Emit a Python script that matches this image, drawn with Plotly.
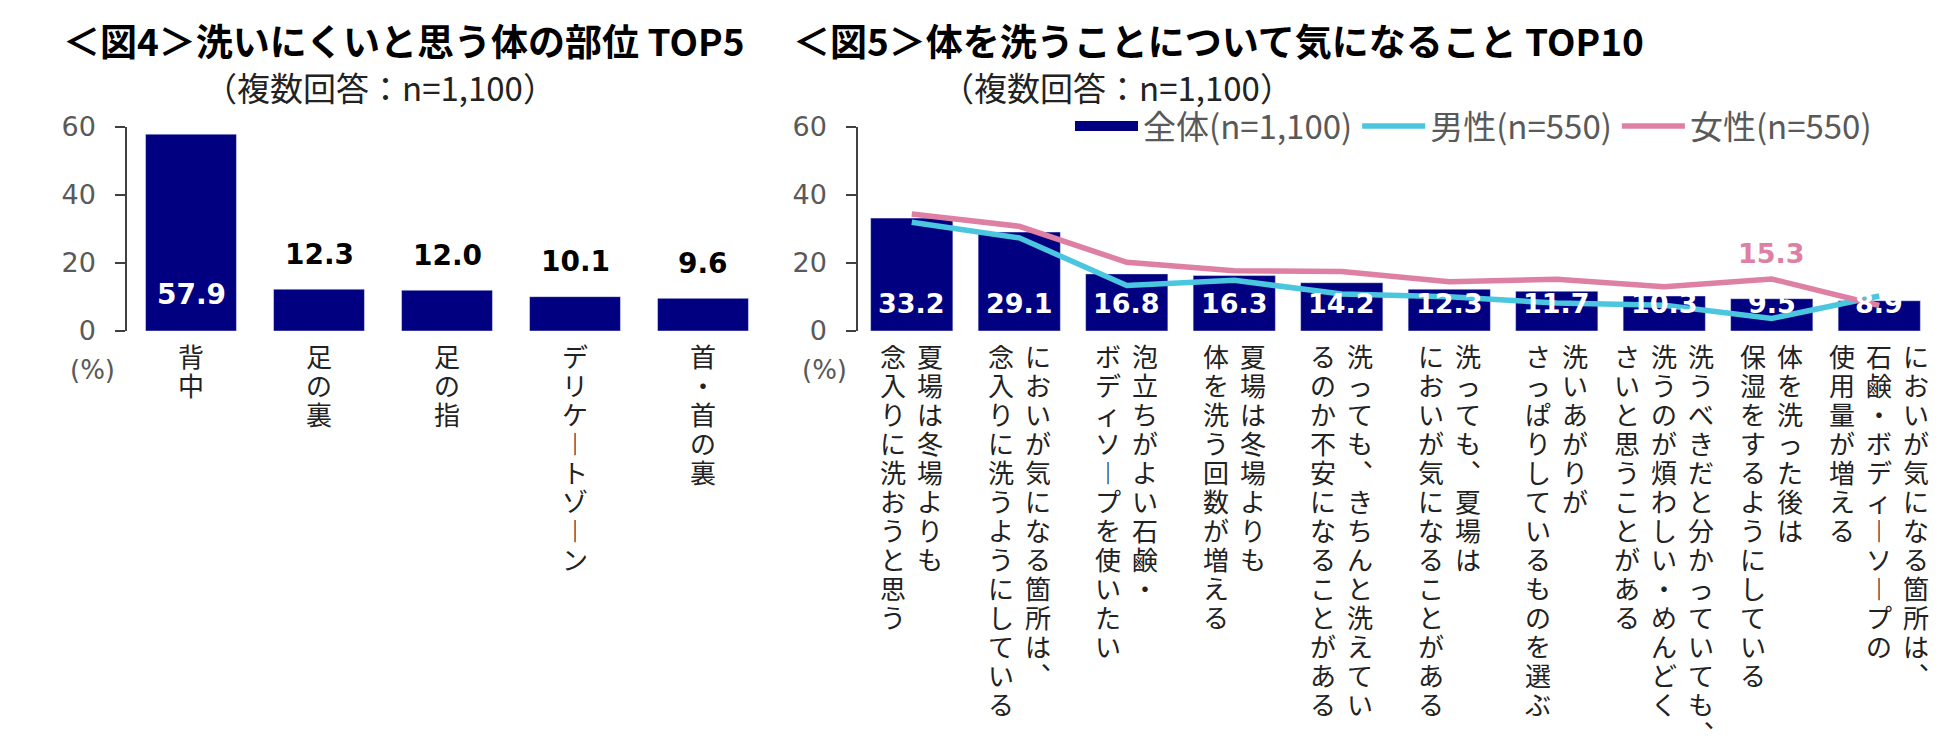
"""図4・図5 体の洗い方アンケート チャート (Plotly)."""

import plotly.graph_objects as go

# ══════════════════════════════════════
# データ
# ══════════════════════════════════════

# 図4 洗いにくいと思う体の部位
PARTS = ["背中", "足の裏", "足の指", "デリケートゾーン", "首・首の裏"]
PARTS_VALUES = [57.9, 12.3, 12.0, 10.1, 9.6]

# 図5 体を洗うことについて気になること (縦書きの列ごと)
CONCERN_LABELS = [
	["夏場は冬場よりも", "念入りに洗おうと思う"],
	["においが気になる箇所は、", "念入りに洗うようにしている"],
	["泡立ちがよい石鹸・", "ボディソープを使いたい"],
	["夏場は冬場よりも", "体を洗う回数が増える"],
	["洗っても、きちんと洗えてい", "るのか不安になることがある"],
	["洗っても、夏場は", "においが気になることがある"],
	["洗いあがりが", "さっぱりしているものを選ぶ"],
	["洗うべきだと分かっていても、", "洗うのが煩わしい・めんどく", "さいと思うことがある"],
	["体を洗った後は", "保湿をするようにしている"],
	["においが気になる箇所は、", "石鹸・ボディーソープの", "使用量が増える"],
]
CONCERNS = ["".join(cols) for cols in CONCERN_LABELS]
CONCERN_TOTAL = [33.2, 29.1, 16.8, 16.3, 14.2, 12.3, 11.7, 10.3, 9.5, 8.9]
CONCERN_MALE = [32.0, 27.4, 13.4, 14.9, 10.9, 10.1, 8.2, 7.6, 3.7, 10.3]
CONCERN_FEMALE = [34.4, 30.8, 20.2, 17.7, 17.5, 14.5, 15.2, 13.0, 15.3, 7.5]
HIGHLIGHT = 8  # 女性の値ラベルを出す項目

Y_TICKS = [0, 20, 40, 60]

# ══════════════════════════════════════
# スタイル
# ══════════════════════════════════════

NAVY = "#000080"
CYAN = "#4BC6DF"
PINK = "#DE80A3"
GRAY = "#595959"
JP_FONT = "Noto Sans CJK JP, sans-serif"
NUM_FONT = "DejaVu Sans, Verdana, sans-serif"

W, H = 1950, 753
VERTICAL = {"、": "︑", "ー": "︱"}  # 縦書き用の字形
CHAR_PITCH = 29
COL_PITCH = 37
FIRST_CHAR = 24


def _vertical_label(cat, cols, xref, yref):
	"""縦書きラベル: 1文字ずつ注釈を並べる (右の列から読む)."""
	out = []
	n = len(cols)
	for j, col in enumerate(cols):
		dx = (n - 1) / 2 * COL_PITCH - j * COL_PITCH
		for k, ch in enumerate(col):
			out.append(dict(
				x=cat, y=0, xref=xref, yref=yref,
				text=VERTICAL.get(ch, ch), showarrow=False,
				xanchor="center", yanchor="middle",
				xshift=dx, yshift=-(FIRST_CHAR + k * CHAR_PITCH),
				font=dict(family=JP_FONT, size=26, color="#222222"),
			))
	return out


def _yaxis(anchor):
	return dict(
		range=[0, 60], tickvals=Y_TICKS, domain=[1 - 331 / H, 1 - 127 / H],
		anchor=anchor, showgrid=False, zeroline=False, automargin=False,
		showline=True, linecolor="#404040", linewidth=1.5,
		ticks="outside", ticklen=10, tickcolor="#404040", tickwidth=1.5,
		ticklabelstandoff=14,
		tickfont=dict(family=NUM_FONT, size=27, color=GRAY),
	)


def _xaxis(anchor, n, x0, x1):
	return dict(
		range=[-0.5, n - 0.5], domain=[x0 / W, x1 / W], anchor=anchor,
		showticklabels=False, showgrid=False, zeroline=False, automargin=False,
		showline=False, ticks="",
	)


fig = go.Figure()

# 図4 バー
fig.add_trace(go.Bar(
	x=PARTS, y=PARTS_VALUES, marker_color=NAVY, width=0.71,
	xaxis="x", yaxis="y", showlegend=False, hoverinfo="skip",
))

# 図5 バー + 男女ライン
fig.add_trace(go.Bar(
	x=CONCERNS, y=CONCERN_TOTAL, marker_color=NAVY, width=0.765,
	xaxis="x2", yaxis="y2", showlegend=False, hoverinfo="skip",
))
fig.add_trace(go.Scatter(
	x=CONCERNS, y=CONCERN_MALE, mode="lines", name="男性(n=550)",
	line=dict(color=CYAN, width=5.5), xaxis="x2", yaxis="y2", hoverinfo="skip",
))
fig.add_trace(go.Scatter(
	x=CONCERNS, y=CONCERN_FEMALE, mode="lines", name="女性(n=550)",
	line=dict(color=PINK, width=5.5), xaxis="x2", yaxis="y2", hoverinfo="skip",
))
# 凡例用 (全体) の太線
fig.add_trace(go.Scatter(
	x=[None], y=[None], mode="lines", name="全体(n=1,100)",
	line=dict(color=NAVY, width=18), xaxis="x2", yaxis="y2", legendrank=1,
))

annotations = []

# タイトル・サブタイトル
for cx, title in [(403, "＜図4＞洗いにくいと思う体の部位 TOP5"),
				  (1218, "＜図5＞体を洗うことについて気になること TOP10")]:
	annotations.append(dict(
		x=cx / W, y=1 - 40 / H, xref="paper", yref="paper", showarrow=False,
		text=f"<b>{title}</b>", xanchor="center", yanchor="middle",
		font=dict(family=JP_FONT, size=37, color="#000000"),
	))
for cx in (380, 1117):
	annotations.append(dict(
		x=cx / W, y=1 - 87 / H, xref="paper", yref="paper", showarrow=False,
		text="（複数回答：n=1,100）", xanchor="center", yanchor="middle",
		font=dict(family=JP_FONT, size=33, color="#222222"),
	))

# (%) 単位
for cx in (92, 824):
	annotations.append(dict(
		x=cx / W, y=1 - 370 / H, xref="paper", yref="paper", showarrow=False,
		text="(%)", xanchor="center", yanchor="middle",
		font=dict(family=NUM_FONT, size=26, color=GRAY),
	))

# 図4 値ラベル
for cat, v in zip(PARTS, PARTS_VALUES):
	if v > 30:
		annotations.append(dict(
			x=cat, y=0, xref="x", yref="y", text=f"<b>{v:.1f}</b>", showarrow=False,
			yanchor="middle", yshift=37,
			font=dict(family=NUM_FONT, size=28, color="white"),
		))
	else:
		annotations.append(dict(
			x=cat, y=v, xref="x", yref="y", text=f"<b>{v:.1f}</b>", showarrow=False,
			yanchor="middle", yshift=35,
			font=dict(family=NUM_FONT, size=28, color="#000000"),
		))

# 図5 値ラベル
for cat, v in zip(CONCERNS, CONCERN_TOTAL):
	annotations.append(dict(
		x=cat, y=0, xref="x2", yref="y2", text=f"<b>{v:.1f}</b>", showarrow=False,
		yanchor="middle", yshift=28,
		font=dict(family=NUM_FONT, size=27, color="white"),
	))
annotations.append(dict(
	x=CONCERNS[HIGHLIGHT], y=CONCERN_FEMALE[HIGHLIGHT], xref="x2", yref="y2",
	text=f"<b>{CONCERN_FEMALE[HIGHLIGHT]:.1f}</b>", showarrow=False,
	yanchor="middle", yshift=25,
	font=dict(family=NUM_FONT, size=27, color=PINK),
))

# 縦書きカテゴリ
for cat in PARTS:
	annotations += _vertical_label(cat, [cat], "x", "y")
for cat, cols in zip(CONCERNS, CONCERN_LABELS):
	annotations += _vertical_label(cat, cols, "x2", "y2")

fig.update_layout(
	width=W, height=H,
	margin=dict(l=0, r=0, t=0, b=0, pad=0, autoexpand=False),
	plot_bgcolor="white", paper_bgcolor="white",
	font=dict(family=JP_FONT),
	bargap=0.29,
	xaxis=_xaxis("y", len(PARTS), 127, 767),
	yaxis=_yaxis("x"),
	xaxis2=_xaxis("y2", len(CONCERNS), 858, 1933),
	yaxis2=_yaxis("x2"),
	legend=dict(
		orientation="h", x=1070 / W, y=1 - 126 / H, xanchor="left", yanchor="middle",
		font=dict(family=JP_FONT, size=33, color=GRAY),
		itemwidth=63, bgcolor="rgba(0,0,0,0)", traceorder="normal",
	),
	annotations=annotations,
	hovermode=False,
)

# ページ余白をなくして 1950x753 にそのまま収める
fig.write_html(
	"out.html",
	config={"displayModeBar": False},
	post_script="document.body.style.margin='0';document.body.style.overflow='hidden';",
)
